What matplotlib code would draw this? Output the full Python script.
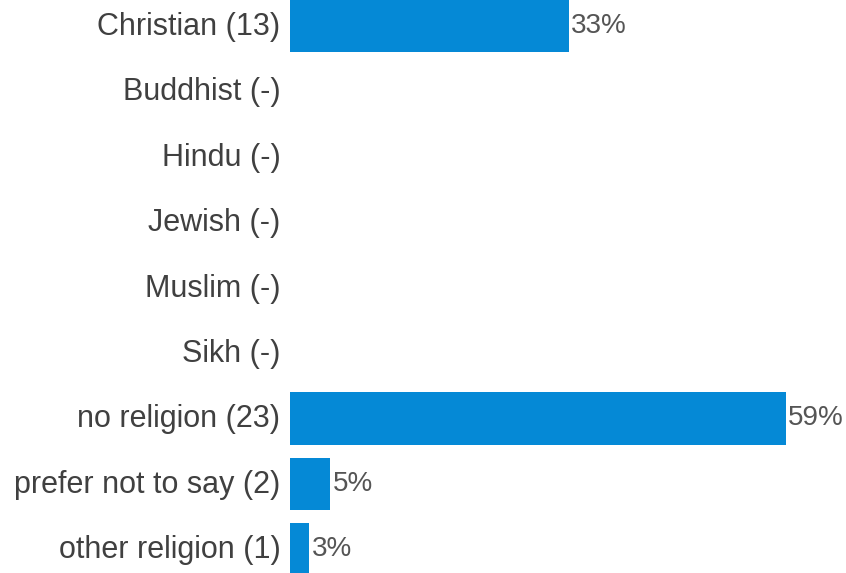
import matplotlib.pyplot as plt
from matplotlib.transforms import ScaledTranslation

categories = ["Christian (13)", "Buddhist (-)", "Hindu (-)", "Jewish (-)", "Muslim (-)",
              "Sikh (-)", "no religion (23)", "prefer not to say (2)", "other religion (1)"]
values = [33.1, 0, 0, 0, 0, 0, 58.9, 4.8, 2.3]
value_labels = ["33%", "", "", "", "", "", "59%", "5%", "3%"]

plt.rcParams['font.family'] = ['Liberation Sans', 'DejaVu Sans']

fig = plt.figure(figsize=(8.46, 5.73), dpi=100)
ax = fig.add_axes([290 / 846, 0, 556 / 846, 1])

y = list(range(len(categories)))
ax.barh(y, values, height=0.8, color="#0589d6")
for yi, v, lab in zip(y, values, value_labels):
    if lab:
        ax.text(v + 0.25, yi, lab, va="center", ha="left", fontsize=20, color="#555555")

ax.set_xlim(0, 66)
ax.set_ylim(8.364, -0.398)
ax.set_yticks(y)
ax.set_yticklabels(categories, fontsize=22, color="#404040")
ax.tick_params(axis="y", length=0, pad=7)
# nudge the category labels up a little
shift = ScaledTranslation(0, 2.5 / 100, fig.dpi_scale_trans)
for t in ax.get_yticklabels():
    t.set_transform(t.get_transform() + shift)
ax.set_xticks([])
for s in ax.spines.values():
    s.set_visible(False)

fig.savefig("out.png", dpi=100)
